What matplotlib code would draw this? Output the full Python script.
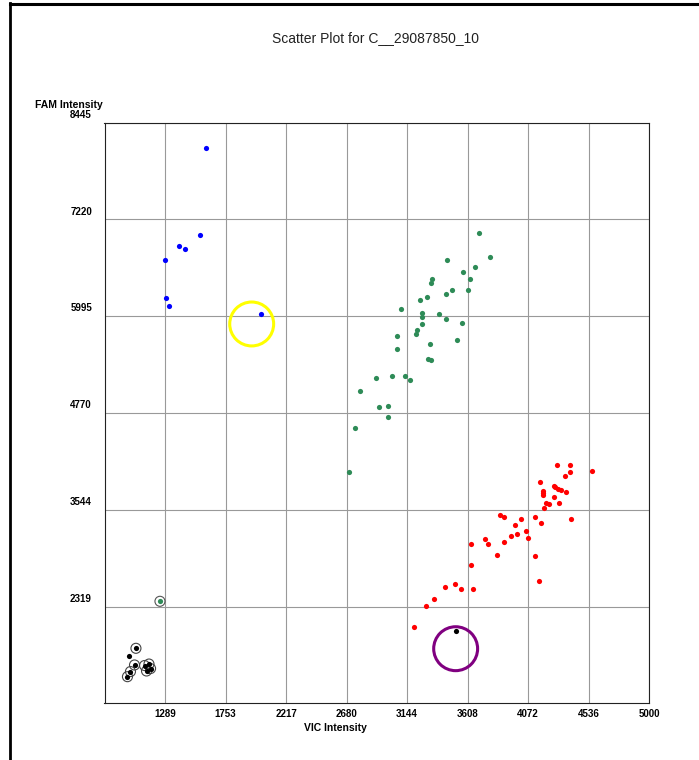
import matplotlib
matplotlib.use("Agg")
import matplotlib.pyplot as plt
import matplotlib.transforms as mtransforms
from matplotlib.lines import Line2D

# --- Axis ranges and tick labels ---
x_min, x_max = 825, 5000
y_min, y_max = 1094, 8445
x_ticks = [1289, 1753, 2217, 2680, 3144, 3608, 4072, 4536, 5000]
y_ticks = [2319, 3544, 4770, 5995, 7220, 8445]

# --- Allele 1 cluster (FAM) ---
blue_x = [1603, 1555, 1394, 1442, 1286, 1299, 1319, 2027]
blue_y = [8119, 7021, 6886, 6840, 6705, 6228, 6123, 6021]

# --- Heterozygous cluster ---
green_x = [3695, 3781, 3452, 3666, 3574, 3628, 3337, 3325, 3486, 3444,
           3608, 3296, 3243, 3099, 3258, 3258, 3386, 3440, 3562, 3258,
           3222, 3214, 3069, 3526, 3317, 3069, 3302, 3329, 2906, 3026,
           3130, 3168, 2785, 2931, 3000, 3000, 2742, 2696]
green_y = [7043, 6739, 6705, 6613, 6557, 6464, 6464, 6410, 6329, 6275,
           6329, 6237, 6202, 6089, 6030, 5983, 6018, 5954, 5908, 5895,
           5819, 5768, 5739, 5692, 5646, 5578, 5452, 5439, 5211, 5237,
           5237, 5192, 5043, 4848, 4861, 4722, 4582, 4018]

# --- Allele 2 cluster (VIC) ---
red_x = [4295, 4392, 4392, 4356, 4162, 4270, 4280, 4300, 4325, 4364,
         4183, 4183, 4183, 4270, 4310, 4208, 4229, 4191, 3856, 3886,
         4122, 4014, 4398, 4168, 3973, 4053, 3986, 3938, 4068, 3739,
         3886, 3761, 3636, 3830, 4122, 3634, 4157, 3513, 3432, 3555,
         3649, 3350, 3291, 3194, 4561]
red_y = [4106, 4106, 4022, 3967, 3899, 3841, 3828, 3806, 3794, 3772,
         3777, 3752, 3731, 3705, 3625, 3625, 3617, 3566, 3481, 3456,
         3456, 3431, 3431, 3376, 3355, 3275, 3241, 3215, 3190, 3170,
         3136, 3114, 3114, 2967, 2955, 2841, 2646, 2604, 2566, 2545,
         2545, 2418, 2326, 2056, 4038]

# --- No-template controls (ringed) and undetermined calls ---
ntc_x = [1066, 1055, 1132, 1166, 1178, 1147, 1024, 1001]
ntc_y = [1790, 1579, 1572, 1591, 1534, 1503, 1496, 1431]
undet_x = [1010, 3521]
undet_y = [1693, 2013]
ringed_green_x = [1250]
ringed_green_y = [2385]

# --- Highlight circles ---
yellow_circle = (1953, 5895)
purple_circle = (3516, 1785)

BLUE = "#0000ff"
GREEN = "#2e8b57"
RED = "#ff0000"
BOLD_FONT = ["Liberation Sans", "DejaVu Sans"]

fig = plt.figure(figsize=(6.99, 7.6), dpi=100)
ax = fig.add_axes([104.5 / 699, 56.7 / 760, 544.8 / 699, 580.8 / 760])

dot = dict(s=14, linewidths=0, zorder=3)
ax.scatter(blue_x, blue_y, color=BLUE, **dot)
ax.scatter(green_x, green_y, color=GREEN, **dot)
ax.scatter(red_x, red_y, color=RED, **dot)

ax.scatter(ntc_x, ntc_y, s=52, facecolors="none", edgecolors="#444444",
           linewidths=0.8, zorder=3)
ax.scatter(ntc_x, ntc_y, color="black", **dot)
ax.scatter(ringed_green_x, ringed_green_y, s=52, facecolors="none",
           edgecolors="#555555", linewidths=0.8, zorder=3)
ax.scatter(ringed_green_x, ringed_green_y, color=GREEN, **dot)
ax.scatter(undet_x, undet_y, color="black", **dot)

ax.scatter(*yellow_circle, s=1000, facecolors="none", edgecolors="#ffff00",
           linewidths=2.2, zorder=4)
ax.scatter(*purple_circle, s=1000, facecolors="none", edgecolors="#800080",
           linewidths=2.2, zorder=4)

ax.set_xlim(x_min, x_max)
ax.set_ylim(y_min, y_max)
ax.set_xticks(x_ticks)
ax.set_yticks(y_ticks)
ax.set_xticklabels([str(v) for v in x_ticks])
ax.set_yticklabels([str(v) for v in y_ticks])
ax.grid(True, color="#999999", linewidth=0.8)
ax.set_axisbelow(True)
ax.tick_params(length=0, labelsize=7, pad=4)
ax.tick_params(axis="y", pad=9)
for lbl in ax.get_xticklabels() + ax.get_yticklabels():
    lbl.set_fontweight("bold")
    lbl.set_family(BOLD_FONT)
# y labels sit just above their grid lines
shift = mtransforms.ScaledTranslation(0, 2 / 72, fig.dpi_scale_trans)
for lbl in ax.get_yticklabels():
    lbl.set_verticalalignment("bottom")
    lbl.set_transform(lbl.get_transform() + shift)

for side in ax.spines.values():
    side.set_color("#222222")
    side.set_linewidth(0.8)

fig.text(376 / 699, 1 - 38 / 760, "Scatter Plot for C__29087850_10",
         ha="center", va="center", fontsize=10, family="Liberation Sans",
         color="#222222")
fig.text(69 / 699, 1 - 105 / 760, "FAM Intensity", ha="center", va="center",
         fontsize=7.5, fontweight="bold", family=BOLD_FONT)
fig.text(335 / 699, 1 - 728 / 760, "VIC Intensity", ha="center", va="center",
         fontsize=7.5, fontweight="bold", family=BOLD_FONT)

# page frame on the top and left edges
fig.add_artist(Line2D([10 / 699, 10 / 699], [0, 1 - 3 / 760], color="black",
                      linewidth=2, transform=fig.transFigure))
fig.add_artist(Line2D([10 / 699, 1], [1 - 4 / 760, 1 - 4 / 760], color="black",
                      linewidth=2.2, transform=fig.transFigure))

fig.savefig("out.png", dpi=100)
